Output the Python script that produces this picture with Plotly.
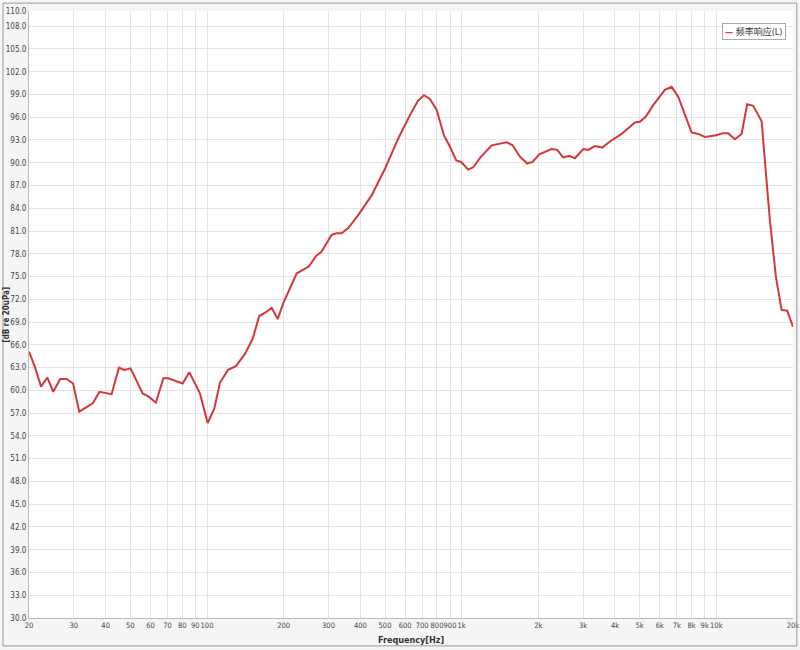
import math
import plotly.graph_objects as go

freq_hz = [20, 21.1, 22.3, 23.6, 24.9, 26.5, 28.1, 29.8, 31.5, 35.6, 37.8, 42.2, 45.1, 47.3, 50.1,
           55.9, 58.8, 63.0, 67.4, 70.5, 80.2, 85.2, 93.8, 100.6, 106.8, 112.4, 120.9, 129.9, 140.9,
           151.1, 160.4, 170.4, 179.4, 189.5, 199.3, 224.9, 238.7, 252, 267.8, 282, 308.6, 322.8,
           337.8, 358.6, 392.4, 443, 499.8, 563.6, 636, 675, 711, 750.6, 797, 852, 893.6, 952, 996,
           1061, 1110, 1179, 1311, 1414, 1502, 1585, 1694, 1809, 1899, 2016, 2256, 2373, 2504, 2644,
           2784, 3002, 3140, 3336, 3564, 3821, 4246, 4789, 5010, 5290, 5651, 6282, 6675, 7084, 7526,
           7996, 8488, 9017, 9872, 10638, 11130, 11825, 12568, 13220, 13956, 15054, 16230, 17132,
           18040, 18972, 20000]
level_db = [65.1, 63.1, 60.5, 61.7, 59.8, 61.5, 61.5, 60.9, 57.2, 58.3, 59.8, 59.5, 63.0, 62.7, 62.9,
            59.6, 59.2, 58.4, 61.6, 61.6, 60.9, 62.4, 59.6, 55.7, 57.6, 61.0, 62.7, 63.2, 64.8,
            66.8, 69.8, 70.3, 70.9, 69.4, 71.5, 75.4, 75.9, 76.4, 77.7, 78.3, 80.5, 80.7,
            80.7, 81.4, 83.1, 85.7, 89.2, 93.2, 96.7, 98.2, 98.9, 98.4, 97.0, 93.6, 92.3, 90.3, 90.1,
            89.1, 89.4, 90.6, 92.3, 92.5, 92.7, 92.3, 90.8, 89.9, 90.1, 91.1, 91.8, 91.7, 90.7, 90.9,
            90.6, 91.8, 91.7, 92.2, 92.0, 92.8, 93.8, 95.3, 95.4, 96.1, 97.6, 99.6, 100.0, 98.7, 96.3,
            94.0, 93.8, 93.4, 93.6, 93.9, 93.9, 93.1, 93.8, 97.7, 97.5, 95.5, 82.4, 75.0,
            70.6, 70.5, 68.4]

x_tick_vals = [20, 30, 40, 50, 60, 70, 80, 90, 100, 200, 300, 400, 500, 600, 700, 800, 900,
               1000, 2000, 3000, 4000, 5000, 6000, 7000, 8000, 9000, 10000, 20000]
x_tick_text = ["20", "30", "40", "50", "60", "70", "80", "90", "100", "200", "300", "400", "500",
               "600", "700", "800", "900", "1k", "2k", "3k", "4k", "5k", "6k", "7k", "8k", "9k",
               "10k", "20k"]
y_tick_vals = [30, 33, 36, 39, 42, 45, 48, 51, 54, 57, 60, 63, 66, 69, 72, 75, 78, 81, 84, 87,
               90, 93, 96, 99, 102, 105, 108, 110]
y_tick_text = ["%.1f" % v for v in y_tick_vals]

series_name = "频率响应(L)"
x_title = "Frequency[Hz]"
y_title = "[dB re 20uPa]"
LINE_COLOR = "#d5373b"
FONT = "Liberation Sans Narrow, DejaVu Sans Condensed, Noto Sans CJK SC, sans-serif"

fig = go.Figure()
fig.add_trace(go.Scatter(x=freq_hz, y=level_db, mode="lines", name=series_name,
                         line=dict(color=LINE_COLOR, width=2), showlegend=False))

fig.update_layout(
    width=800, height=650,
    margin=dict(l=29, r=7, t=11, b=32),
    paper_bgcolor="#f5f5f5",
    plot_bgcolor="#ffffff",
    font=dict(family=FONT, size=9, color="#444444"),
    showlegend=False,
    xaxis=dict(type="log", range=[math.log10(20), math.log10(20000) + 0.00002],
               tickvals=x_tick_vals, ticktext=x_tick_text,
               showgrid=True, gridcolor="#e3e3e3", gridwidth=1, zeroline=False,
               showline=True, linecolor="#bbbbbb", ticks="", tickfont=dict(size=7.5),
               tickangle=0, automargin=False),
    yaxis=dict(range=[30, 110], tickvals=y_tick_vals, ticktext=y_tick_text,
               showgrid=True, gridcolor="#e3e3e3", gridwidth=1, zeroline=False,
               showline=True, linecolor="#bbbbbb", ticks="", tickfont=dict(size=8),
               automargin=False),
)
# legend box (drawn as an annotation so it stays compact like the original)
fig.add_annotation(text="<span style='color:%s'><b>—</b></span> %s" % (LINE_COLOR, series_name),
                   xref="paper", yref="paper", x=0.991, y=0.980, xanchor="right", yanchor="top",
                   showarrow=False, font=dict(size=9, color="#333333"),
                   bgcolor="#ffffff", bordercolor="#aaaaaa", borderwidth=1, borderpad=2)
fig.add_annotation(text="<b>%s</b>" % x_title, xref="paper", yref="paper", x=0.5, y=-0.036,
                   showarrow=False, font=dict(size=9, color="#333333"), xanchor="center", yanchor="middle")
fig.add_annotation(text="<b>%s</b>" % y_title, xref="paper", yref="paper", x=-0.030, y=0.5,
                   showarrow=False, textangle=-90, font=dict(size=8, color="#333333"),
                   xanchor="center", yanchor="middle")
fig.add_shape(type="rect", xref="paper", yref="paper", x0=-0.034, x1=1.005, y0=-0.046, y1=1.013,
              line=dict(color="#999999", width=1))

fig.write_html("out.html", config={"displayModeBar": False},
               post_script="document.body.style.margin='0';document.body.style.overflow='hidden';")
